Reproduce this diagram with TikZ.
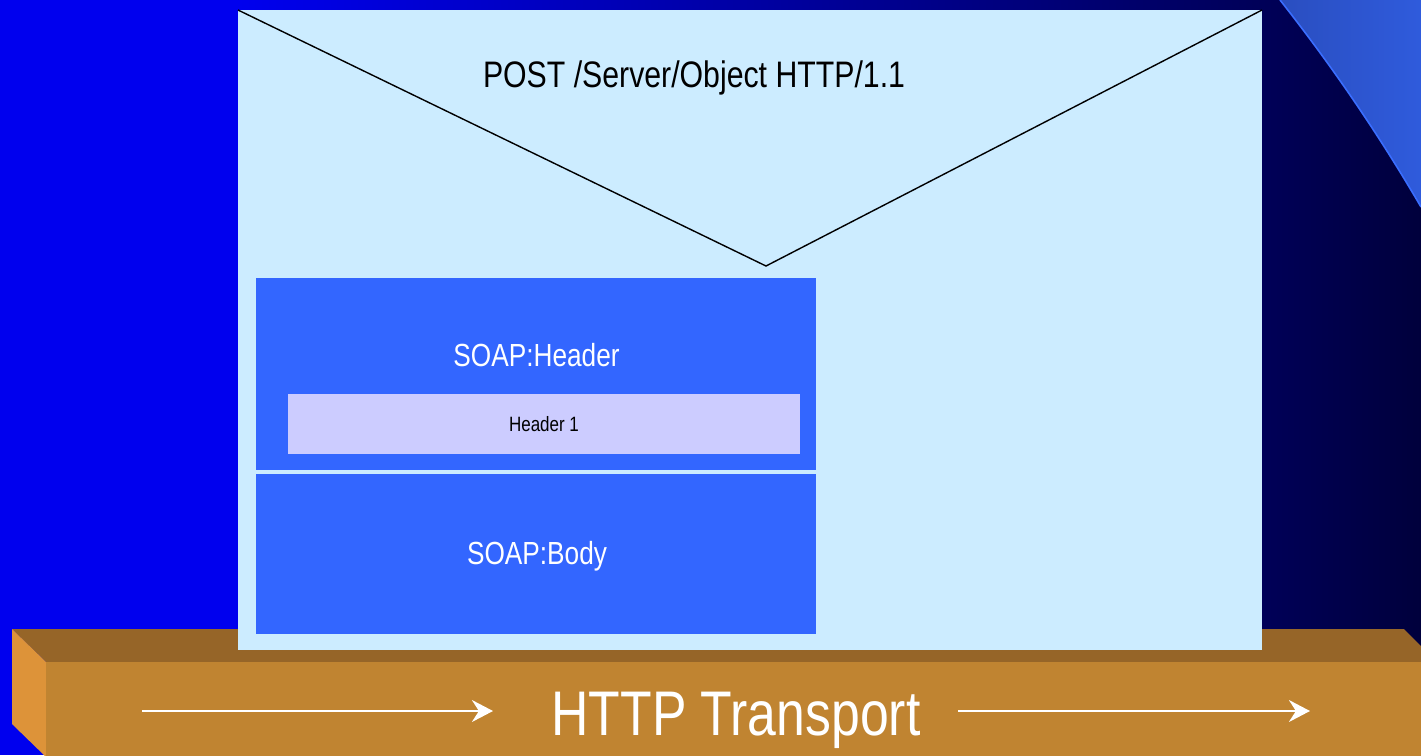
\documentclass[tikz,border=0pt]{standalone}
\usepackage{fontspec}
\setmainfont[FakeStretch=0.82]{Liberation Sans}
\usepackage{tikz}
\usetikzlibrary{arrows.meta,calc,positioning}

\definecolor{slideblue}{RGB}{0,0,238}
\definecolor{slidenavy}{RGB}{0,0,88}
\definecolor{slidedark}{RGB}{0,0,60}
\definecolor{swooshA}{RGB}{42,78,192}
\definecolor{swooshB}{RGB}{47,91,220}
\definecolor{swooshedge}{RGB}{58,110,255}
\definecolor{envfill}{RGB}{204,236,255}
\definecolor{soapblue}{RGB}{51,102,255}
\definecolor{hdrlilac}{RGB}{204,204,255}
\definecolor{barfront}{RGB}{192,132,49}
\definecolor{bartop}{RGB}{150,101,40}
\definecolor{barside}{RGB}{221,147,57}

\begin{document}
\begin{tikzpicture}[x=0.02cm,y=-0.02cm,
  txt/.style={anchor=base,inner sep=0pt},
  soaptext/.style={txt,white,font=\fontsize{18.2}{22}\selectfont},
  flowarrow/.style={white,line width=1.1pt,-{Stealth[length=12pt,width=12.5pt,inset=4pt]}}]
\useasboundingbox (0,0) rectangle (1421,755);
\clip (0,0) rectangle (1421,755);
% slide background
\fill[slideblue] (0,0) rectangle (238,755);
\shade[left color=slideblue,right color=slidenavy] (238,0) rectangle (1262,755);
\shade[left color=slidenavy,right color=slidedark] (1262,0) rectangle (1421,755);
\shade[left color=swooshA,right color=swooshB] (1280,0) .. controls (1332,66) and (1379,135) .. (1421,207) -- (1421,0) -- cycle;
\draw[swooshedge,line width=0.9pt] (1280,0) .. controls (1332,66) and (1379,135) .. (1421,207);
% transport bar
\fill[bartop] (12,629) -- (1404,629) -- (1437,662) -- (46,662) -- cycle;
\fill[barside] (12,629) -- (46,662) -- (46,757) -- (12,724) -- cycle;
\fill[barfront] (46,662) rectangle (1440,760);
\node[txt,white,font=\fontsize{35.9}{40}\selectfont] (http) at (736,735) {HTTP Transport};
\coordinate (L1) at (142,711);
\coordinate (L2) at (493,711);
\coordinate (R1) at (958,711);
\coordinate (R2) at (1310,711);
\draw[flowarrow] (L1) -- (L2);
\draw[flowarrow] (R1) -- (R2);
% envelope
\fill[envfill] (238,10) rectangle (1262,650);
\coordinate (TL) at (238,10);
\coordinate (TR) at (1262,10);
\coordinate (V) at (766,266);
\draw[black,line width=0.8pt] (TL) -- (V) -- (TR);
\node[txt,font=\fontsize{21}{25}\selectfont] (req) at (694,87) {POST /Server/Object HTTP/1.1};
% soap header and body
\fill[soapblue] (256,278) rectangle (816,470);
\fill[hdrlilac] (288,394) rectangle (800,454);
\fill[soapblue] (256,474) rectangle (816,634);
\node[soaptext] (hdr) at (536.5,366) {SOAP:Header};
\node[txt,font=\fontsize{11.8}{14}\selectfont] (hdr1) at (544,431) {Header 1};
\node[soaptext] (body) at (537,564) {SOAP:Body};
\end{tikzpicture}
\end{document}
